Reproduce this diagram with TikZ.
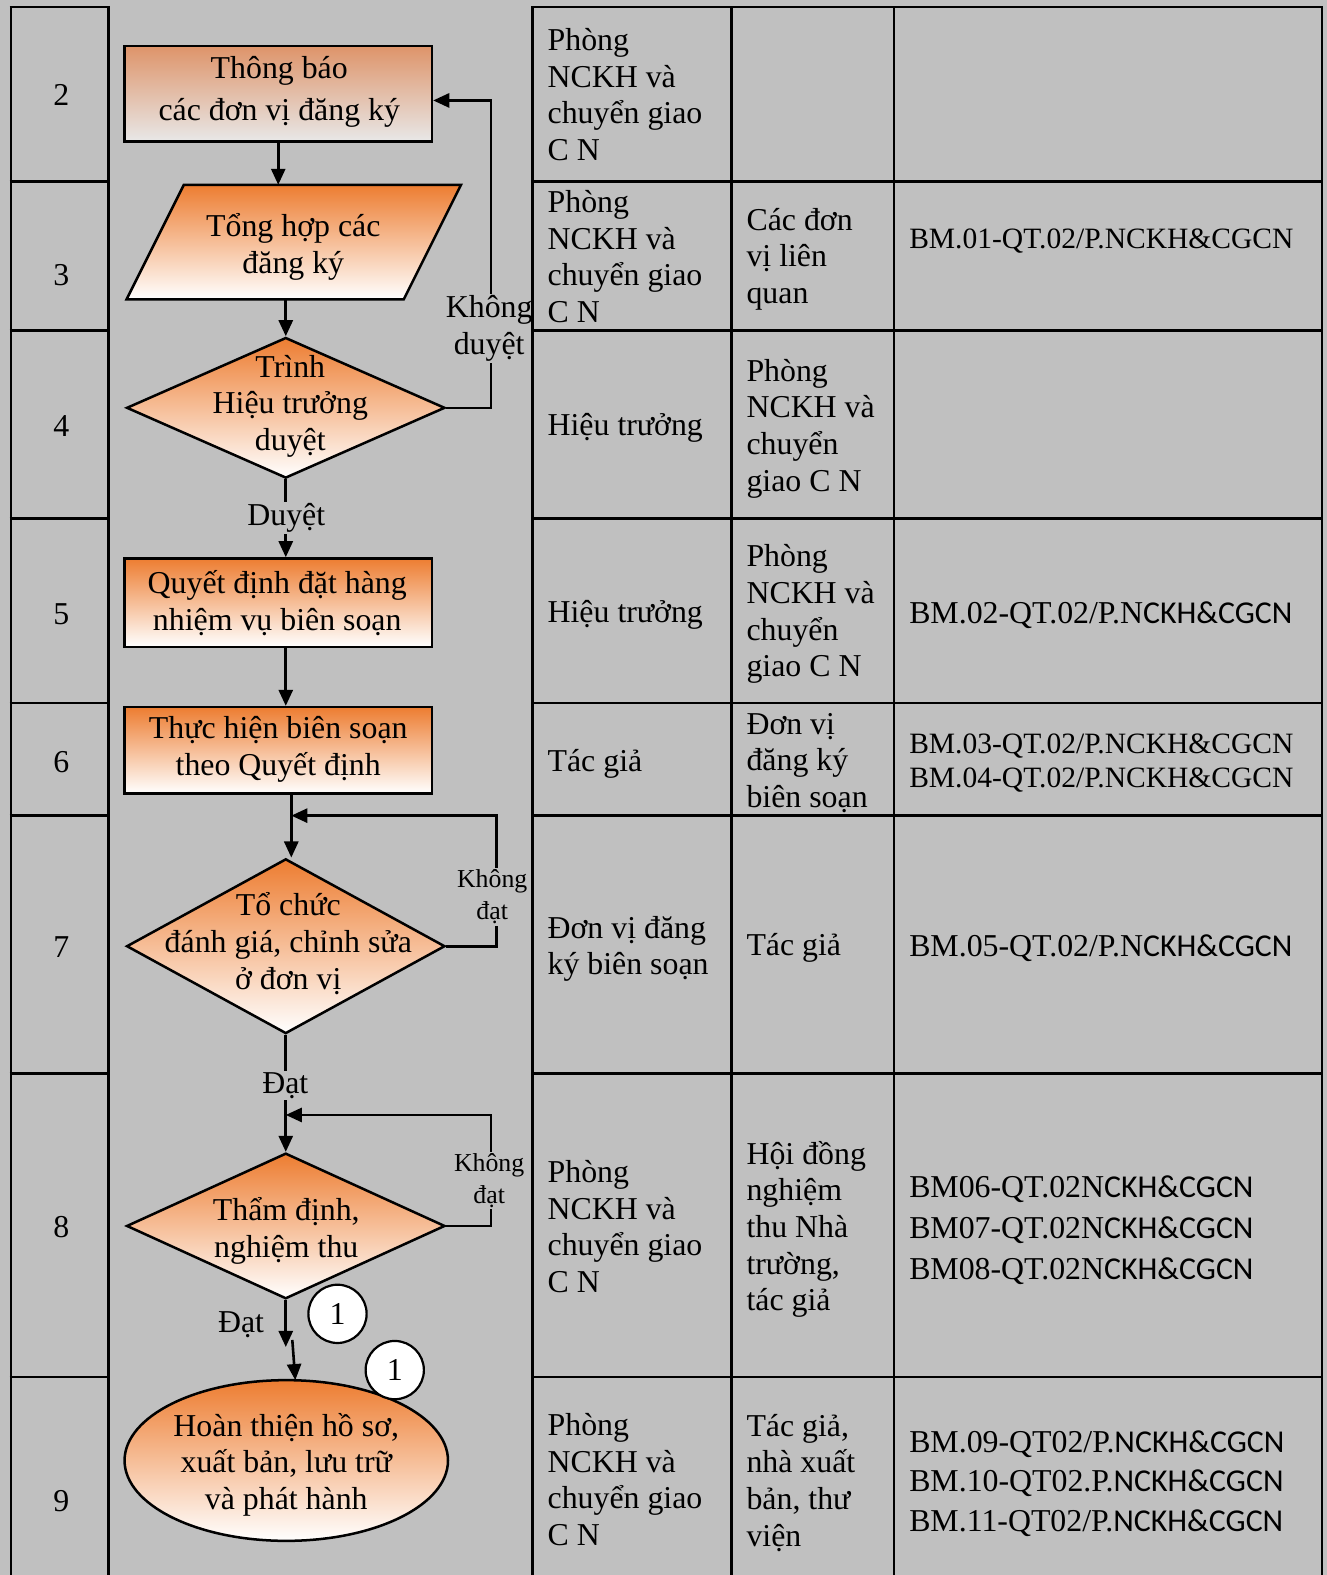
\documentclass[tikz,border=0pt]{standalone}
\usepackage{fontspec}
\setmainfont{Liberation Serif}
\newfontfamily\calib{Carlito}
\usetikzlibrary{shapes.geometric,arrows.meta,calc}
\definecolor{bg}{RGB}{192,192,192}
\definecolor{org}{RGB}{237,125,49}
\definecolor{orgA}{RGB}{222,148,106}
\definecolor{grA}{RGB}{232,232,232}
\begin{document}
\begin{tikzpicture}[x=1pt,y=-1pt,
  tline/.style={line width=2.7pt},
  shp/.style={draw=black,line width=2.5pt,top color=org,bottom color=white},
  conn/.style={line width=2.6pt},
  arr/.style={line width=2.6pt,-{Triangle[length=16pt,width=14pt]}},
  txt/.style={font=\fontsize{31.7}{36.5}\selectfont,inner sep=0pt,yshift=-3pt},
  ttxt/.style={txt,align=center},
  cell/.style={txt,anchor=west,align=left},
  cellb/.style={cell,yshift=3pt},
  lbl/.style={txt,fill=bg,align=center,inner sep=1.5pt},
  slbl/.style={lbl,font=\fontsize{25.7}{32}\selectfont},
  numc/.style={circle,draw=black,line width=2.2pt,fill=white,minimum size=58pt,inner sep=0pt,font=\fontsize{31.7}{36.5}\selectfont}
]
\useasboundingbox (0,0) rectangle (1321,1568);
\fill[bg] (0,0) rectangle (1321,1568);

% ---------- flowchart shapes ----------
\node[shp,top color=orgA,bottom color=grA,rectangle,minimum width=306pt,minimum height=95pt,inner sep=0pt] (r1) at (277,93.5) {};
\node[ttxt,font=\fontsize{31.7}{42}\selectfont] (t1) at (278,88.5) {Thông báo\\các đơn vị đăng ký};

\path[shp] (183,184) -- (459,184) -- (402,298) -- (126,298) -- cycle;
\coordinate (pgN) at (277,184);
\coordinate (pgS) at (284.5,298);
\node[ttxt] (tp) at (292,242.5) {Tổng hợp các\\đăng ký};

\node[shp,diamond,minimum width=317pt,minimum height=140pt,inner sep=0pt] (d1) at (284.5,406) {};
\node[ttxt] (td1) at (289,401.5) {Trình\\Hiệu trưởng\\duyệt};

\node[shp,rectangle,minimum width=306pt,minimum height=88pt,inner sep=0pt] (r4) at (277,600) {};
\node[ttxt] (t4) at (276,597.5) {Quyết định đặt hàng\\nhiệm vụ biên soạn};

\node[shp,rectangle,minimum width=306pt,minimum height=86pt,inner sep=0pt] (r5) at (277,747) {};
\node[ttxt] (t5) at (277,743) {Thực hiện biên soạn\\theo Quyết định};

\node[shp,diamond,minimum width=317pt,minimum height=174pt,inner sep=0pt] (d2) at (284.5,942) {};
\node[ttxt] (td2) at (287,936.5) {Tổ chức\\đánh giá, chỉnh sửa\\ở đơn vị};

\node[shp,diamond,minimum width=317pt,minimum height=145pt,inner sep=0pt] (d3) at (284.5,1220.5) {};
\node[ttxt] (td3) at (285,1222.5) {Thẩm định,\\nghiệm thu};

\node[shp,ellipse,minimum width=322pt,minimum height=160pt,inner sep=0pt] (e) at (285,1454) {};
\node[ttxt] (te) at (285,1455) {Hoàn thiện hồ sơ,\\xuất bản, lưu trữ\\và phát hành};

% ---------- connectors ----------
\draw[arr] (r1.south) -- (pgN);
\draw[arr] (pgS) -- (d1.north);

\coordinate (k1) at (489,100);
\draw[arr] (d1.east) -| (k1) -- (k1 -| r1.east);
\node[lbl] (kd1) at (487,324) {Không\\duyệt};

\draw[arr] (d1.south) -- (d1.south |- r4.north);
\node[lbl] (ld1) at (285,513) {Duyệt};

\draw[arr] (r4.south -| d1.south) -- (r5.north -| d1.south);

\coordinate (m2) at (290,812);
\draw[arr] (r5.south -| m2) -- (m2 |- d2.north);
\coordinate (k2) at (494,812);
\draw[arr] (d2.east) -| (k2) -- (m2);
\node[slbl] (kd2) at (490,890) {Không\\đạt};

\coordinate (m3) at (284.5,1110);
\draw[arr] (d2.south) -- (d3.north);
\coordinate (k3) at (489,1110);
\draw[arr] (d3.east) -| (k3) -- (m3);
\node[slbl] (kd3) at (487,1172) {Không\\đạt};
\node[lbl] (ld2) at (284,1078) {Đạt};

\coordinate (j1) at (284.5,1341);
\draw[arr] (d3.south) -- (j1);
\coordinate (j2) at (291,1334);
\coordinate (j3) at (294,1374);
\draw[arr] (j2) -- (j3);
\node[txt] (ld3) at (240,1316) {Đạt};

\node[numc] (c1) at (336,1308) {1};
\node[numc] (c2) at (393,1364) {1};

% ---------- table ----------
\foreach \x in {11,108,530,728,890,1316} \draw[tline] (\x,7) -- (\x,1568);
\foreach \y in {7,181,329,516,700,812,1069,1371} {
  \draw[tline] (9.7,\y) -- (109.3,\y);
  \draw[tline] (528.7,\y) -- (1317.3,\y);
}

\foreach \n/\y in {2/93,3/272,4/422,5/609,6/757,7/941,8/1220,9/1492}
  \node[txt,yshift=1pt] (n\n) at (61,\y) {\n};

% column 2
\node[cellb] (b2) at (545,94.2) {Phòng\\NCKH và\\chuyển giao\\C N};
\node[cellb] (b3) at (545,255.5) {Phòng\\NCKH và\\chuyển giao\\C N};
\node[cell] (b4) at (545,423) {Hiệu trưởng};
\node[cell] (b5) at (545,609) {Hiệu trưởng};
\node[cell] (b6) at (545,757) {Tác giả};
\node[cell] (b7) at (545,941.5) {Đơn vị đăng\\ký biên soạn};
\node[cellb] (b8) at (545,1221) {Phòng\\NCKH và\\chuyển giao\\C N};
\node[cellb] (b9) at (545,1473) {Phòng\\NCKH và\\chuyển giao\\C N};

% column 3
\node[cell] (g3) at (743,255) {Các đơn\\vị liên\\quan};
\node[cell] (g4) at (743,423.5) {Phòng\\NCKH và\\chuyển\\giao C N};
\node[cell] (g5) at (743,608.5) {Phòng\\NCKH và\\chuyển\\giao C N};
\node[cell] (g6) at (743,756.5) {Đơn vị\\đăng ký\\biên soạn};
\node[cell] (g7) at (743,941) {Tác giả};
\node[cell] (g8) at (743,1220.8) {Hội đồng\\nghiệm\\thu Nhà\\trường,\\tác giả};
\node[cell] (g9) at (743,1473) {Tác giả,\\nhà xuất\\bản, thư\\viện};

% column 4
\node[cell,font=\fontsize{29.4}{33.6}\selectfont] (f3) at (905,237) {BM.01-QT.02/P.NCKH\&CGCN};
\node[cell] (f5) at (905,609) {BM.02-QT.02/P.N{\calib CKH\&CGCN}};
\node[cell,font=\fontsize{29.4}{34}\selectfont] (f6) at (905,757) {BM.03-QT.02/P.NCKH\&CGCN\\BM.04-QT.02/P.NCKH\&CGCN};
\node[cell] (f7) at (905,941) {BM.05-QT.02/P.N{\calib CKH\&CGCN}};
\node[cell,font=\fontsize{31.7}{41}\selectfont] (f8) at (905,1222) {BM06-QT.02N{\calib CKH\&CGCN}\\BM07-QT.02N{\calib CKH\&CGCN}\\BM08-QT.02N{\calib CKH\&CGCN}};
\node[cell,font=\fontsize{31.7}{39}\selectfont] (f9) at (905,1474) {BM.09-QT02/P.{\calib NCKH\&CGCN}\\BM.10-QT02.P.{\calib NCKH\&CGCN}\\BM.11-QT02/P.{\calib NCKH\&CGCN}};
\end{tikzpicture}
\end{document}
